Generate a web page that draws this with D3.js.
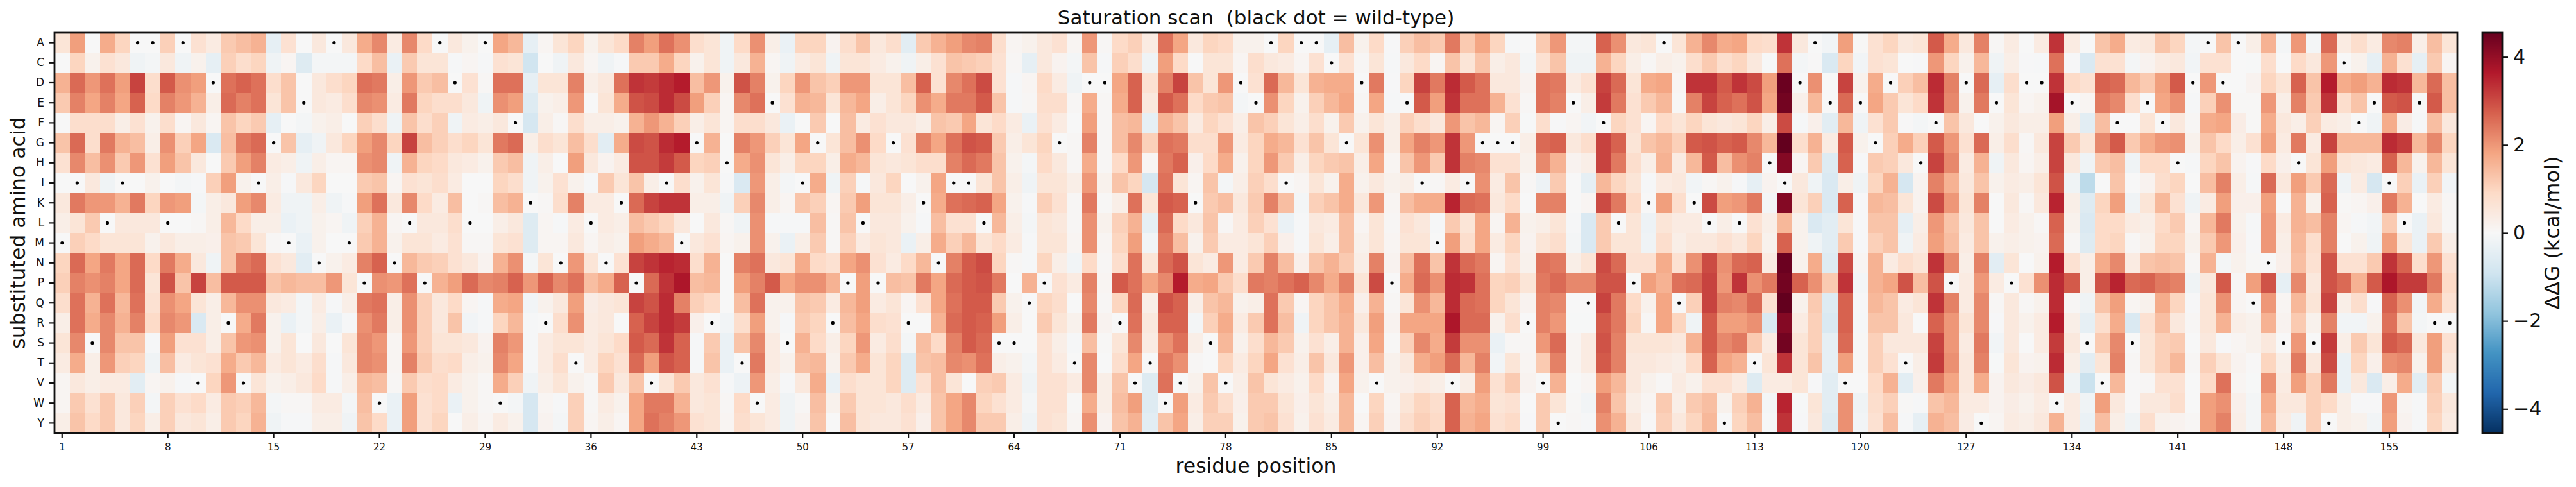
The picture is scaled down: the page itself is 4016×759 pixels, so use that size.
<!DOCTYPE html>
<html>
<head>
<meta charset="utf-8">
<title>Saturation scan</title>
<script src="https://cdn.jsdelivr.net/npm/d3@7"></script>
<style>
	html, body { margin: 0; padding: 0; background: #fff; }
	svg { display: block; }
	text { font-family: "DejaVu Sans", sans-serif; fill: #111; }
</style>
</head>
<body>
<svg id="heatmap" width="4016" height="759" viewBox="0 0 4016 759"></svg>
<script>

const amino_acids = ["A","C","D","E","F","G","H","I","K","L","M","N","P","Q","R","S","T","V","W","Y"];

// one letter per residue position, the black dots
const wild_type = "MISLIAALAVDRVIGMENAMPWNLPADLAWFKRNTLNKPVIMGRHTWESIGRPLPGRKNIILSSQPGTDDRVTWVKSVDEAIAACGDVPEIMVIGGGRVYEQFLPKAQKLYLTHIDAEVEGDTHFPDYEPDDWESVFSEFHDADAQNSHSYCFEILERR";

const tick_positions = [1,8,15,22,29,36,43,50,57,64,71,78,85,92,99,106,113,120,127,134,141,148,155];
const colorbar_ticks = [-4,-2,0,2,4];
const v_max = 4.55;

// ddG per position, one list per substituted amino acid
const row_A = [0.6,1.9,0,1.7,1,0,0,1.1,0,0.7,0.4,1.2,1.4,1.6,-0.4,0.7,0,0.5,0,0.5,1.7,2.2,0.4,2.2,0.9,0,
	0.5,0.2,0,1.8,1.5,-0.4,0.1,0.6,1,0.2,0.6,0.9,2.3,1.9,2.5,2.1,0.8,0.6,-0.2,0.9,2.1,0.3,-0.3,1,1,0.15,0.8,1.3,0.5,
	0.8,-0.5,1.2,1.6,1.9,2.2,2.3,0.8,0.1,0.2,0.5,0.7,0.1,2,0.05,0.9,1.1,0.4,2.5,1.8,0.5,1,0.9,0.2,0.2,0,1,0,0,
	-0.4,1.4,0.2,0.9,-0.03,1.1,1.4,1.2,2.4,1.2,1.8,1,-0.05,0,1.2,2,-0.1,-0.1,2.7,2.1,0.5,0.6,0,0.6,1.6,2.2,1.7,1.8,0.9,
	0.8,3.3,0.5,0,-0.15,1.9,0.03,0.7,1,0.5,0.6,2.8,1.7,0.5,2.3,0.05,0.4,0,0.4,3.3,0.4,0,1.3,1.7,0.4,0.5,1.3,1,-0.1,
	0,1.3,0,0.3,1.6,-0.1,2,-0.1,2.6,0.4,0.8,0.4,2.2,2.3,0.3,1.4,0.6];
const row_C = [0,1,0.2,0.7,0.5,-0.2,-0.1,0.5,-0.2,0.2,-0.4,1.1,0.8,1,-0.2,0.1,-0.6,-0.1,-0.1,-0.1,0.9,1.4,-0.3,1.2,0.6,0.6,
	-0.05,0.1,-0.05,0.7,0.6,-0.9,0,-0.2,0.5,0.1,-0.2,-0.05,1.2,1.2,1.7,1,0.2,0.6,-0.2,0.5,1.6,0.1,-0.2,0.4,0.6,-0.2,0.6,0.6,0.4,
	0.2,-0.2,0.3,0.7,1.3,1.2,1.1,0.7,0.05,-0.4,0.5,0.15,-0.1,1.3,-0.05,1.1,0.8,-0.2,1.9,0.9,0,0.6,0.6,0.1,0.8,0.5,0.4,0.1,0.7,
	0,0.7,0.05,0.6,-0.05,0.5,0.9,0.1,1.3,0.6,1.3,0.3,0.5,-0.1,0.7,1.3,-0.2,-0.2,1.6,1,0.3,0.05,0.3,0.2,0.8,1.2,0.8,1,0.5,
	-0.02,2.5,-0.1,0.02,-0.7,1,-0.15,0.7,0.6,0,-0.03,2,1,0.2,1.5,-0.2,0.3,-0.03,-0.05,2.5,-0.03,-0.7,0.7,0.7,-0.1,0.15,0.4,0.5,-0.15,
	0.7,0.7,0,-0.02,0.8,0,0.9,0.5,2,0,0.2,-0.4,1.6,0.7,-0.4,1.2,0.1];
const row_D = [1.6,2.6,2,2.5,1.9,3.1,0.8,2.8,2.1,1.9,0,2.5,2.7,2.5,0.8,1.3,0,0.5,0.8,1,2.5,2.4,0.3,2,1.2,1.4,
	0,0.7,0.05,2.5,2.5,-0.4,0.6,0.6,2.3,0.3,0.5,2.5,3.3,3.2,3.4,3.6,1.4,2,0.2,2.9,2.3,0.2,1,2,1.3,1.1,2,2,0.6,
	0.6,1.4,2.7,0.7,2.2,2.5,3,0.7,-0.05,0.1,0.9,0.4,-0.2,0,0,1.8,2.7,0.7,2.3,3.1,1.3,0.6,2,0,0.7,2.6,1.5,0.6,1.6,
	1.7,1.7,0,2.4,-0.03,1,3.1,2.4,3.4,2.8,2.5,0.5,0.5,0.15,2.5,2.4,0.4,0.7,3.1,2.6,0.6,1.7,1.8,0.1,3.3,3.3,2.8,3.3,3,
	1.9,4.5,0,2.1,0,3.1,0.2,1.7,0,1.1,1.4,3.4,2.3,0,2.6,-0.4,0.8,0,0,3.3,0.9,0.7,2.7,2.6,1.5,1.2,1.9,2.8,0,
	2,0,0,0.15,1,0.6,2.7,1.3,3.6,1.7,1.9,1.6,3.4,3.3,1.5,2.6,1.4];
const row_E = [1.2,2.3,1.8,2.3,1.8,2.7,0.9,2.3,2,1.6,0.3,2.6,2.3,2.5,0.6,1.3,0,0.5,0.4,0.8,2.2,2.1,0.4,2.4,1,0.8,
	0.8,0.5,-0.2,2.1,1.9,-0.6,0.2,0.3,2,0,0.6,1.7,2.9,3,3.4,3,1.9,1.1,0.1,2.2,2.5,0,0.7,1.6,1.5,0.6,1.5,1.8,0.3,
	0.6,1,2.1,1.7,2.4,2.4,2.8,1.3,-0.05,0.05,0.8,0.8,0.05,1.7,0.05,1.7,2.7,0.5,2.8,2.5,0.9,1.2,1.3,-0.1,0,2.1,1,0.2,1.1,
	1.5,1.8,0.05,1.8,-0.05,0,2.8,1.9,3.3,2.5,2.5,1.6,0.7,0.05,2.5,2.3,0,0.3,3.2,2.4,0.7,1.2,1.5,0.03,2.3,3.1,2.7,2.5,2.9,
	1.8,4.4,0.25,1.5,0,2.6,0,1.8,1.2,0.6,0.9,3.3,2.2,0.2,2.4,0,0.6,0.1,0.2,3.8,0,0.1,2.4,2.2,0.8,0,1.8,2.1,-0.05,
	1.1,2.1,0.03,0.03,2,0.3,2.3,1.2,3.3,0.8,1.3,0,2.8,2.9,0,2.8,1.4];
const row_F = [0,0.8,0.8,0.8,0.3,0.7,0.2,0.8,0.1,0.5,0.1,1.3,1,1.2,-0.4,0,-0.1,0.2,0.3,0,1.1,0.8,-0.2,1.3,0.8,1.1,
	-0.2,0.4,0.3,0.5,0,-0.8,0.3,0.05,0.8,0.3,0.3,0.2,1.6,2,1.6,1.1,0.3,0.6,0.1,0.8,0.8,0.5,-0.3,0,1.2,0,1.4,0.4,0.7,
	0.5,0.5,0.3,1.3,1.2,1.8,0.6,0.9,0.4,-0.3,0.7,0.4,0,1.9,0.05,1.4,1.5,-0.4,1.6,1.3,0.4,1,0.7,0.3,1.3,1.1,0.6,0.3,0.8,
	0.2,1.2,0.2,0.6,0.3,1.1,0.8,0.5,2,1.3,1.5,0.1,1.1,-0.02,0.8,-0.03,0.1,-0.15,0,1,0.7,0.1,0.9,0.6,1,0.6,0.5,0.6,1,
	0.3,3,-0.05,0.25,-0.5,1.5,-0.2,0.7,1.2,0.02,-0.1,0,1.3,0.5,0,0.2,0.5,0.3,0.3,1.9,0.3,-0.5,1.4,0,0,0.6,0,0.5,0.05,
	1.7,1.8,0.35,0.03,1.7,0.5,0.3,1.1,0.4,0.3,0,-0.2,1.7,0.35,-0.05,1.4,0.5];
const row_G = [1.3,2.6,0.8,2.4,1.6,1.4,0.3,2.1,1.1,1.8,-0.7,1.4,2.4,2.6,0,1.3,-0.4,-0.2,0.5,1,1.9,2.2,1,3.1,1.4,1.1,
	0.8,1,0.6,2.4,2.6,0.3,0.8,0.6,1.4,0.8,-0.5,1.7,3,2.9,3.4,3.6,0,1.6,0,2.3,2,1.1,0.6,1.8,0,0.6,1.4,2.1,0.9,
	0,0.7,2.3,1.8,2.5,2.9,2.8,1.2,0.3,0.6,1,0,0.05,2.3,0.05,1.4,2.2,1.1,2.5,2.4,0.8,0.8,2,0.4,1,1.7,1.5,0.7,1.3,
	0.6,0,0.6,2.1,0.3,1.8,2.3,2,3.3,2,0,0,0,0.3,2.6,2.7,0.5,0.8,3.1,2.7,0.6,1.3,1.5,1.1,2.8,2.9,2.7,2.8,2.2,
	1.5,4.6,0.8,1.6,0.4,2.8,0.2,0,1.1,1.7,1.1,2.8,2,0.7,2.6,0.3,0.8,0.05,0.5,3.1,1.2,0.6,2.2,2.8,1.2,1.7,2,2.1,0.2,
	1.3,0.9,0.3,0.7,1.9,0.4,2.4,0.4,3.1,1.5,1.5,1.5,3.4,3.2,1.5,2.2,1];
const row_H = [0.7,2.2,1.4,2.1,1.2,2,0.7,1.9,1.3,0.5,0,1.2,1.9,2.3,0.4,0.3,-0.2,0.3,0.1,0.1,2.1,2.2,-0.2,1.6,1,0.9,
	0.5,0.4,0.2,1.2,1.4,-0.2,0.3,0,1.9,0.5,0.15,0.4,2.9,2.9,3.2,2.8,1,1.1,0,1.7,2.1,0.6,0.3,1,1,0.3,1.7,1.5,0.6,
	0.5,0.6,0.8,0.8,2.3,2.6,2.4,1.3,0.2,-0.1,0.9,0.5,0.05,1.7,0.05,0.9,2,0.1,2.4,2.7,0.25,0.9,1.7,0.2,1,2,1.2,0.3,1,
	1.2,1.3,0.3,1.8,0.1,1.3,2,1.2,3.3,2.3,2.2,0.7,0.7,0.2,2.2,1.6,0.15,0.3,3.1,2.4,0.8,0.3,1.6,0.4,1.5,2.8,1.4,2.1,2.3,
	0,4.2,0.1,1.2,-0.6,2.7,-0.03,1.2,1.1,0.5,0,3.1,2.2,0.4,1.6,-0.2,0.5,0.1,0.3,3.1,0.5,-0.2,1.2,1.4,-0.2,0.9,0.9,0,-0.05,
	1,1.3,0.15,-0.03,0.9,0.25,0,0.6,1.9,0.6,0.5,0.4,2.7,1.5,0.2,1.5,0.6];
const row_I = [0,0,0.5,-0.2,0,0,0.2,0,-0.1,-0.05,1.1,1.9,0.2,0,0.3,-0.05,0.5,1,0,0,1.2,1.3,0.1,0.7,0.6,0.8,
	0.4,0,0,1,0.8,-0.2,0.2,0.7,0.2,-0.05,1.2,0.6,1.3,0.3,0,0.8,0.2,0.6,-0.05,-0.7,2,0.3,-0.1,0,1.7,-0.2,1.1,-0.05,0.5,
	1,0,0.2,1.8,0,0,0.6,1.3,0.3,-0.2,0.6,0.6,0.3,2,0.2,1.3,1,-0.8,2.5,0.6,0.1,1.3,-0.1,0.3,1.1,0.8,0,0.1,0.6,
	0.2,1.7,0.2,0.5,0.2,0.3,0,0.05,0.4,0,2.1,0.4,1.3,0.05,-0.25,1.2,0,-0.4,1.5,1,0.6,-0.05,0.4,0.5,-0.15,0.05,0.2,-0.05,-0.4,
	0.15,0,0.5,-0.2,-0.7,0.3,-0.2,1,1.6,-0.8,0.15,2.3,1.6,0.5,1.3,0.2,0.4,0.3,0.6,2.9,-0.2,-1.2,0,1.3,0,0.15,0.8,1,0,
	1.4,2.3,0.3,-0.05,2.6,0.5,1.9,1.2,2.6,-0.2,0.4,-0.8,0,1.1,-0.3,1.1,-0.15];
const row_K = [0.5,2.4,2,2,1.6,2.4,1,2,1.9,-0.1,0.3,0.5,1.9,2.2,0.4,-0.2,-0.2,0.3,-0.2,-0.05,1.9,2.5,0.5,2.2,0.9,0.4,
	1.4,0,0.05,1.4,1.6,0,0.05,0.8,2.3,0.4,0.4,0,2.6,3.1,3.3,3.3,0.3,0.3,-0.2,1.1,2.2,0.3,0.1,1.3,1.1,0.1,1.2,1.9,0.6,
	0.6,0.3,0,1.7,2.5,2.6,2.7,1.8,0.2,-0.05,1.1,0.7,0.05,2.4,0.03,0.3,2.5,0.6,2.8,2.7,0,1.2,1.4,0.5,1.2,2.3,1.4,-0.1,1.1,
	1.3,1.7,0.5,2,0.1,1.4,1.7,1.7,3.5,2.6,2.5,0.5,0.9,0,2.3,2.3,0,0.1,3,2.4,0.9,0,1.9,0.8,0,3,1.9,2,2.4,
	-0.1,4.2,0.6,1.1,-0.7,2.7,-0.03,1.5,1.4,0.6,0.15,3,2,0.6,2.3,0,0.5,0.05,0.5,3.5,0.3,-0.6,1,1.9,-0.2,0.6,1.5,0.7,-0.2,
	0.4,1.9,0.25,0.25,1.9,0,1.6,0.2,2.7,0.03,0.1,0.25,2.4,1.6,0,0.4,0.05];
const row_L = [0.3,0.6,1.2,0,0.5,0.5,0.5,0,0,0.05,0.3,1.5,0.9,0.3,0.3,-0.3,-0.2,0.2,0.1,-0.2,1.1,1.6,0.1,0,0.5,0.5,
	0.8,0,0,0.3,0.5,-0.6,0.1,-0.05,0.4,0,0.4,0.3,1.4,1.2,1,0.5,0,0.5,0.05,-0.2,2.1,-0.05,-0.05,-0.05,1.4,0.05,1.3,0,0.5,
	0.5,0.2,-0.05,1.4,0.7,0.7,0,1.5,0.3,-0.1,0.6,0.5,0.05,2.1,0.2,1.1,1.6,-0.4,2.6,0.9,0.5,1.3,0.05,0.4,1.1,0.7,-0.3,-0.05,0.5,
	0.4,1.4,0.1,0.6,0.05,0.7,0.5,-0.05,1.2,0.6,1.8,0.1,1.6,0.2,0.3,0.6,-0.05,-0.7,1.2,0,0.6,-0.25,0.6,0.4,0.4,0,0.3,0,0.7,
	0.3,1.5,0.2,-0.7,-0.5,0.6,-0.03,1.3,1.3,-0.4,0.3,2,1.3,0.5,1.3,0,0.4,0.2,0.05,2.7,0.2,-0.7,0.9,0.9,0.4,0.3,0.9,1.2,0.1,
	1.5,2.4,0.2,-0.05,2,0.4,1.6,1.4,2.3,0.1,-0.05,-0.15,1.2,0,-0.3,0.5,0.05];
const row_M = [0,1.1,0.9,0.6,0.6,0.6,0.2,0.5,0.3,0.3,0.25,1.3,1.2,0.6,0.05,0,-0.3,0.2,0,0,1.2,1.6,0.2,0.6,0.6,0.4,
	0.7,0.05,0.05,0.6,0.7,-0.6,0.1,0.1,0.5,0.1,0.3,0.2,1.9,1.7,1.5,0,0.5,0.7,0.1,0.2,2.1,0.2,-0.3,0.3,1.2,0.05,1.1,0.4,0.6,
	0.5,-0.3,0.3,1.7,1.1,1.5,0.6,0.9,0.4,-0.05,0.6,0.6,0.1,2.1,0.1,1,1.9,-0.15,2.4,1.4,0.2,1.2,0.4,0.4,0.6,1.1,0.25,-0.05,0.6,
	0.3,1.4,0.2,0.6,0.1,0.6,0.6,0,1.9,0.8,1.8,0.4,1,0.15,0.6,0.8,-0.1,-0.7,1.2,0.6,0.6,-0.2,0.8,0.3,0.5,0.5,0.7,0.5,1,
	0.2,2.7,0.2,-0.2,-0.5,1.2,-0.03,1.1,1.3,-0.2,0.4,1.9,1.4,0.4,1.3,0.2,0.3,0.2,0.15,2.6,0.05,-0.6,0.9,1,0.05,0.2,1,1,0.2,
	1.2,2,0.25,-0.03,2,0.3,1.5,0.8,2.3,0,0.2,-0.2,1.9,0.6,-0.3,1.2,0.3];
const row_N = [1,2.6,1.8,2.4,1.8,2.6,0.9,2.4,1.7,0.5,-0.2,1.3,2.4,2.6,0.7,0.5,-0.5,0,0.2,0.4,2.3,2.7,0,1.5,1.2,1.1,
	0.7,0.5,0.15,1.6,2.1,-0.1,0.6,0,2,0.6,0,0.7,3.1,3.3,3.5,3.4,0.8,1.6,0,2.3,2.5,0.5,0.6,1.7,0.9,0.7,1.8,2.1,0.7,
	0.4,0.9,1.5,0,2.3,2.8,3,1,0.05,-0.05,1,0.3,-0.15,0.9,0.05,0.8,2.5,0.6,2.6,2.9,0.6,0.4,2,0.4,1.2,2.3,1.4,0.25,1.3,
	1.6,1.2,0.3,2.3,0.15,1.4,2.5,1.3,3.3,2.6,2.4,0.1,0.7,0.2,2.5,2.4,0.3,0.6,3,2.6,0.7,0.7,1.7,0.7,2.1,3,2.1,2.6,2.7,
	0.4,4.5,0.2,1.7,-0.6,3,0.1,1.6,0.4,0.8,0.6,3.3,2.2,0.3,2.3,-0.5,0.6,0,0.2,3.6,0.7,0.3,1.7,2.2,0.4,1.3,1.4,1.3,0.05,
	1.6,-0.1,0.2,0.03,0,0.25,1.4,0.7,2.9,0.7,0.7,1.2,3.3,2.7,0.8,2,0.7];
const row_P = [1.1,2.3,2.1,2.3,1.8,2.6,0.6,2.9,1.3,3.1,1.4,2.8,2.8,2.8,1.3,1.5,1.4,1.4,2,0.6,0,2.1,2,2.5,0,1.6,
	1.9,2.6,2.2,2.3,2.7,2,2.7,2.2,2.5,1.4,1.7,2.7,0,2.6,3.3,3.7,1.4,1.5,0,1.9,2.3,2.8,1.8,2.1,2.1,1.6,0,1.9,0,
	1.4,1.3,2.4,1.8,2.6,2.8,2.9,2.4,0,1.6,0,0.7,0.4,2.3,0.1,2.8,2.5,1.8,2.2,3.6,1.7,1.8,1.2,0.8,2.4,2.3,2.5,2.7,2.2,
	1.7,2.3,0.6,3,0,1.7,2.6,2.1,3.4,3.3,2.5,1,1.1,0.6,2.4,2.6,2.2,2.2,2.9,2.9,0,1.9,1.6,2.5,2.6,3.1,2,3.3,2.1,
	2.4,4.4,2.7,2.1,1.2,3.3,-0.1,1.6,1.8,2.9,1.4,2.9,0,0.4,2,0.4,0,0.7,2.1,3.4,2.8,0.3,2.9,3.5,2.6,2.7,2.4,2.3,-0.2,
	0.5,2.8,0.05,1.9,2.9,-0.4,2.2,0.5,2.9,2.6,1.6,2.8,3.7,3.2,3.2,2.4,0.9];
const row_Q = [0.8,2.5,1.6,2.5,1.5,2.5,0.7,2.1,1.8,0.6,0.3,1.5,2.1,2.1,0.5,0.4,-0.1,0.4,-0.05,0.3,2.4,2.5,0.3,2.1,1.1,0.5,
	0.9,0.1,-0.05,1.7,1.8,-0.15,0.2,0.5,1.9,0.35,0.5,0.6,3.1,2.9,3.4,2.3,1.1,0.9,0,1.4,2.5,0.2,0.2,1.3,1.2,0.4,1.5,1.9,0.4,
	0.6,0.1,0.7,1.8,2.5,2.8,2.8,1.2,0.2,0,1,0.8,0,2.2,0.05,1,2.6,0.3,2.9,2.7,0.3,1.3,1.5,0.2,0.3,2.5,1.2,0.1,1,
	1.3,1.7,0.25,1.6,0.05,0.6,2.1,1.5,3.4,2.6,2.5,1,0.6,0.15,2.3,2.2,0,0,3.1,2.4,0.9,0.2,1.8,0,1.1,3.1,2.3,2.2,2.6,
	0.7,4.6,0.2,1.2,-0.6,2.7,-0.03,1.5,1.3,0.4,0.6,3.3,2.3,0.4,2.2,0.05,0.5,0.05,0.2,3.4,0.05,-0.2,1.3,1.9,0.1,0.2,1.7,1,-0.03,
	0.6,2.1,0.1,0,2,0.1,1.5,0.6,3.1,0.3,0.8,-0.03,2.7,2.1,-0.15,1.7,0.7];
const row_R = [0.3,2.5,1.7,2.2,1.6,2.3,0.9,2.2,2,-0.7,0.3,0,1.7,2.4,0.2,-0.3,-0.1,0.3,-0.3,-0.05,2.1,2.4,0.3,2.1,1.1,0.5,
	1.3,-0.15,-0.05,1,1.5,-0.05,0,0.8,2.1,0.4,0.5,0,2.7,3.1,3.4,3.2,0.25,0,-0.15,0.8,1.9,0.2,-0.05,1.2,1,0,1.4,1.8,0.8,
	0.7,0,0,1.6,2.6,2.8,2.7,1.9,0.3,0,1.2,0.6,0.2,2.4,0.15,0,2.5,0.5,2.7,2.7,-0.1,1.1,1.7,0.4,1.2,2.5,1.4,-0.2,1,
	1.3,1.6,0.5,1.9,0.15,1.8,1.8,1.8,3.7,2.6,2.6,0.2,0.8,0,2.3,2,-0.02,-0.02,2.8,2.4,1,0.05,1.8,1,-0.2,2.8,1.9,1.9,2.1,
	-0.7,4.2,0.4,1.1,-0.7,2.7,-0.05,1.3,1.3,0.5,0,2.7,2,0.6,2.2,-0.03,0.5,0.2,0.4,3.6,0.3,-0.4,0.8,1.7,-0.7,0.7,1.4,0.5,0.05,
	0.6,1.6,0.3,0.2,1.6,0.15,1.2,0.2,2.3,-0.15,-0.15,0.2,2.5,1.3,-0.1,0,0];
const row_S = [0.6,2.2,0,2.2,1.3,1.3,-0.05,1.9,0.7,0.7,0.3,1.3,2,2.1,0.2,0.6,0,0.5,0,0.6,2.2,2,0.1,2,1.1,0.6,
	0.6,0.5,0.15,2.3,2,-0.05,0.4,0.6,0.6,0.4,0.6,0.9,2.8,2.6,3.3,2.7,-0.05,1.2,-0.3,1.3,2.2,0.4,0,1.6,0.9,0.3,1,2,0.4,
	0.8,-0.1,1.4,0.9,2.3,2.8,2.6,0,0,0,0.7,0.3,-0.05,1.4,0.03,0.6,2.2,0.4,2.1,2.5,0.3,0,1.5,0.2,0.8,1.5,1.2,0.2,0.7,
	0.3,1.6,0.25,1.8,0.03,1.1,2.2,1.7,3.2,2.1,2.1,-0.3,0.05,0.05,2,2.6,0.1,0.4,2.9,2.3,0.6,0.6,0.6,0.5,1.6,2.8,2.2,2.4,1.2,
	0.4,4.4,0.6,1.1,-0.4,2.6,0.03,1.1,0.5,0.5,0.5,3.1,2,0.4,2.4,-0.15,0.5,0,0.4,3.2,0.5,0,1.2,2.2,0,0.6,1.1,1.2,0,
	0.5,-0.03,0.1,0.2,0.5,0,2,0,3.2,0.3,1.2,0.6,2.8,2.6,0.5,1.9,0.7];
const row_T = [0.4,1.7,0.3,2,1.1,1,-0.2,1.4,0.4,0.6,0.7,1.7,1.2,1.5,0.4,0.6,0.4,0.8,-0.05,0.5,2.2,2.1,0.1,2.3,1.2,0.8,
	0.9,0.3,0.2,2.2,1.8,-0.05,0.4,0.8,0,0.4,1,0.7,2.6,1.9,2.9,2.7,-0.05,1.3,-0.3,0,2.4,0.4,0.2,1.4,1.5,0.2,1.2,1.7,0.6,
	1,-0.6,1.3,1.4,2.2,2.1,2.5,0.3,0.2,-0.1,0.7,0.4,0,2.2,0,0.8,1.8,0,2.4,2.1,0.05,0,1,0.4,1,1.8,0.7,0.3,1.3,
	0.5,2,0.25,1.4,0.2,0.5,1.7,1.9,2.6,1.5,2.3,-0.15,0.6,0.1,1.2,2.3,0.1,0.4,2.8,2.3,0.5,0.5,0.4,0.3,0.9,2.7,1.8,1.6,0,
	0.6,3.3,0.6,1.3,-0.4,1.9,0.03,1.1,0.7,0,0.3,3.2,2.1,0.5,2.3,-0.02,0.6,0.15,0.2,3.4,0.3,-0.5,0.6,2.3,0.05,0.6,1.1,1.5,0.05,
	1.1,0.6,0.15,0.02,1,0.3,2.4,0.5,3,-0.3,1,0.25,2.1,2.2,0.2,1.9,0.5];
const row_V = [0.1,0.5,0.3,0.4,0.4,-0.5,0.1,0.2,-0.05,0,1,2,0,0.6,0.2,0.3,0.5,0.9,-0.05,0.3,1.5,1.4,0.05,1.2,0.8,0.9,
	0.4,0.2,0.05,1.7,1.1,-0.2,0.3,0.6,0.2,0.05,1.2,0.5,1.3,0,0.6,1.2,0.5,0.7,-0.05,-0.25,2,0.3,-0.05,0.5,1.7,-0.3,0.8,0.6,0.6,
	1,-0.6,0.7,1.4,0.6,0,1.1,1.2,0.4,-0.2,0.7,0.7,0.4,2.2,0.3,1.3,0,-0.6,2.5,0,0.2,1.3,0,0.3,1.3,0.6,0.4,0.2,0.9,
	0.15,1.8,0.2,0,0.2,0.25,0.4,0.3,0,0.3,1.9,0.7,1.2,0.15,0,1.6,0,0.1,1.9,1.5,0.5,0.2,0.05,0.4,0.2,0.7,0.7,0.4,-0.6,
	0.4,0.4,0.6,-0.03,-0.5,0,0,0.9,1.6,-0.5,0.25,2.4,1.8,0.5,1.7,0.15,0.5,0.35,0.5,2.9,-0.2,-1,0,1.5,0.02,0.05,0.7,0.7,0,
	0.9,2.5,0.1,-0.02,2.1,0.4,1.9,1.1,2.4,-0.3,0.5,-0.7,0.3,1.7,-0.5,1.2,-0.1];
const row_W = [0.1,1.2,0.7,1.2,0.5,1.1,-0.1,1.1,0.7,0.9,0.4,1.2,1.1,1.5,-0.1,0.05,0.05,0.4,0.4,-0.1,1.4,0,-0.3,1.9,0.7,0.9,
	-0.3,0.2,0.05,0,-0.1,-0.8,0.1,-0.05,1.1,0.05,0.4,0.2,1.8,2.4,2.4,1.6,0.5,0.6,0.05,0.9,0,0.4,-0.2,0.05,1.4,0.2,1.2,0.6,0.6,
	0.5,0.8,0.4,1.3,1.8,2.2,1,0.7,0.4,-0.1,0.7,0.7,0.03,1.7,0.3,1.4,1.9,-0.6,0,1.9,0.4,1.2,0.8,0.25,1.2,1.2,0.6,0.25,0.6,
	0.3,1.5,0,1,0.1,0.6,1,0.8,2.7,1.5,1.7,0.6,0.7,0,1.2,0.6,0.03,-0.15,2.3,1.3,0.3,0.1,1.2,0.3,1.2,1.4,0.2,1.1,1.6,
	-0.1,3.5,-0.02,0.6,-0.5,2.1,-0.2,0.8,1.1,0.03,-0.05,1.3,1.5,0.4,0.4,0.15,0.35,0.2,0.4,0,0.4,-0.2,1.9,0.5,0.02,0.5,0.5,0.8,0,
	1.9,2.1,0.25,-0.1,1.7,0.5,0.5,1.1,0.9,0.3,-0.03,-0.03,2,0.1,-0.05,1.1,0.5];
const row_Y = [0.3,1.3,0.9,1.2,0.5,1,0.3,1.1,0.5,0.6,0.3,1.2,1,1.6,-0.2,-0.05,-0.05,0.3,0.3,-0.2,1.3,0.9,-0.3,1.9,0.7,1,
	0,0.3,0.1,0.4,0.2,-0.8,0.15,-0.1,1.1,0.1,0.3,0.1,1.8,2.5,2.3,2,0.7,0.6,0.1,0.8,0.6,0.4,-0.2,0.15,1.3,0,1.4,0.6,0.5,
	0.5,0.7,0.25,1.3,1.8,2.2,1.2,1.2,0.3,-0.2,0.7,0.6,0.1,2.1,0.15,1.3,1.6,-0.5,1.3,1.8,0.3,1.1,1.1,0.2,1.2,1.3,0.7,0.2,0.7,
	0.4,1.5,0.1,1.1,0.15,0.8,1.1,0.9,2.7,1.6,1.8,0.7,0.9,-0.03,1.2,0,0.05,-0.05,2.1,1.6,0.5,0.02,1.1,0.5,1,1.5,0,1,1.4,
	-0.05,3.3,-0.03,0.5,-0.6,2.1,-0.15,0.7,1.4,-0.05,-0.4,1.6,1.4,0.35,0,0.1,0.4,0.3,0.5,1.6,0.4,-0.3,1.4,0.3,-0.2,0.8,0.2,0.15,0.05,
	1.9,2.3,0.3,-0.1,1.5,0.4,-0.2,1.1,0,0.3,0.2,-0.15,1.9,0.15,-0.05,1,0.4];

const rows = [row_A,row_C,row_D,row_E,row_F,row_G,row_H,row_I,row_K,row_L,row_M,row_N,row_P,row_Q,row_R,row_S,row_T,row_V,row_W,row_Y];

// same stops as matplotlib's RdBu_r
const cmap_stops = ["#053061","#2166ac","#4393c3","#92c5de","#d1e5f0","#f7f7f7","#fddbc7","#f4a582","#d6604d","#b2182b","#67001f"];

const margin = {left: 85, top: 51, right: 185, bottom: 84};
const width = 4016 - margin.left - margin.right;
const height = 759 - margin.top - margin.bottom;

const positions = d3.range(1, wild_type.length + 1);

const svg = d3.select("#heatmap");

const x = d3.scaleBand().domain(positions).range([margin.left, margin.left + width]);
const y = d3.scaleBand().domain(amino_acids).range([margin.top, margin.top + height]);

const color = d3.scaleLinear()
	.domain(d3.range(11).map(i => -v_max + i * v_max / 5))
	.range(cmap_stops)
	.interpolate(d3.interpolateRgb);

// flatten for the cells
let cells = [];
amino_acids.forEach((aa, r) => {
	rows[r].forEach((v, c) => {
		cells.push({aa: aa, pos: c + 1, value: v});
	});
});

svg.append("g")
	.selectAll("rect")
	.data(cells)
	.enter()
	.append("rect")
	.attr("x", d => x(d.pos))
	.attr("y", d => y(d.aa))
	.attr("width", x.bandwidth() + 0.5)
	.attr("height", y.bandwidth() + 0.5)
	.attr("shape-rendering", "crispEdges")
	.style("fill", d => color(d.value));

// wild-type dots
svg.append("g")
	.selectAll("circle")
	.data(positions)
	.enter()
	.append("circle")
	.attr("cx", d => x(d) + x.bandwidth() / 2)
	.attr("cy", d => y(wild_type[d - 1]) + y.bandwidth() / 2)
	.attr("r", 2.6)
	.style("fill", "#000");

function styleAxis(g, fontSize) {
	g.select(".domain").remove();
	g.selectAll("line").attr("stroke", "#111").attr("stroke-width", 2.2);
	g.selectAll("text").style("font-size", fontSize + "px").style("font-family", '"DejaVu Sans", sans-serif').style("fill", "#111");
}

const x_axis = d3.axisBottom(x).tickValues(tick_positions).tickSize(8).tickPadding(8);
svg.append("g")
	.attr("transform", `translate(0,${margin.top + height})`)
	.call(x_axis)
	.call(g => styleAxis(g, 15));

const y_axis = d3.axisLeft(y).tickSize(8).tickPadding(8);
svg.append("g")
	.attr("transform", `translate(${margin.left},0)`)
	.call(y_axis)
	.call(g => styleAxis(g, 17));

// spines
svg.append("rect")
	.attr("x", margin.left)
	.attr("y", margin.top)
	.attr("width", width)
	.attr("height", height)
	.style("fill", "none")
	.style("stroke", "#111")
	.style("stroke-width", 2.8);

// colorbar
const cb_left = 3870;
const cb_width = 31;
const cb = d3.scaleLinear().domain([-v_max, v_max]).range([margin.top + height, margin.top]);

svg.append("g")
	.selectAll("rect")
	.data(d3.range(margin.top, margin.top + height))
	.enter()
	.append("rect")
	.attr("x", cb_left)
	.attr("y", d => d)
	.attr("width", cb_width)
	.attr("height", 1.5)
	.attr("shape-rendering", "crispEdges")
	.style("fill", d => color(cb.invert(d + 0.5)));

const cb_axis = d3.axisRight(cb).tickValues(colorbar_ticks).tickSize(9).tickPadding(8)
	.tickFormat(d => d < 0 ? "\u2212" + Math.abs(d) : d);
svg.append("g")
	.attr("transform", `translate(${cb_left + cb_width},0)`)
	.call(cb_axis)
	.call(g => styleAxis(g, 30));

svg.append("rect")
	.attr("x", cb_left)
	.attr("y", margin.top)
	.attr("width", cb_width)
	.attr("height", height)
	.style("fill", "none")
	.style("stroke", "#111")
	.style("stroke-width", 2.8);

// titles
svg.append("text")
	.attr("x", margin.left + width / 2)
	.attr("y", 38)
	.attr("text-anchor", "middle")
	.style("font-size", "31px")
	.style("white-space", "pre")
	.text("Saturation scan  (black dot = wild-type)");

svg.append("text")
	.attr("x", margin.left + width / 2)
	.attr("y", 737)
	.attr("text-anchor", "middle")
	.style("font-size", "31.5px")
	.text("residue position");

svg.append("text")
	.attr("transform", `translate(39,${margin.top + height / 2}) rotate(-90)`)
	.attr("text-anchor", "middle")
	.style("font-size", "31.5px")
	.text("substituted amino acid");

svg.append("text")
	.attr("transform", `translate(3990,${margin.top + height / 2}) rotate(-90)`)
	.attr("text-anchor", "middle")
	.style("font-size", "32px")
	.text("\u0394\u0394G (kcal/mol)");

</script>
</body>
</html>
